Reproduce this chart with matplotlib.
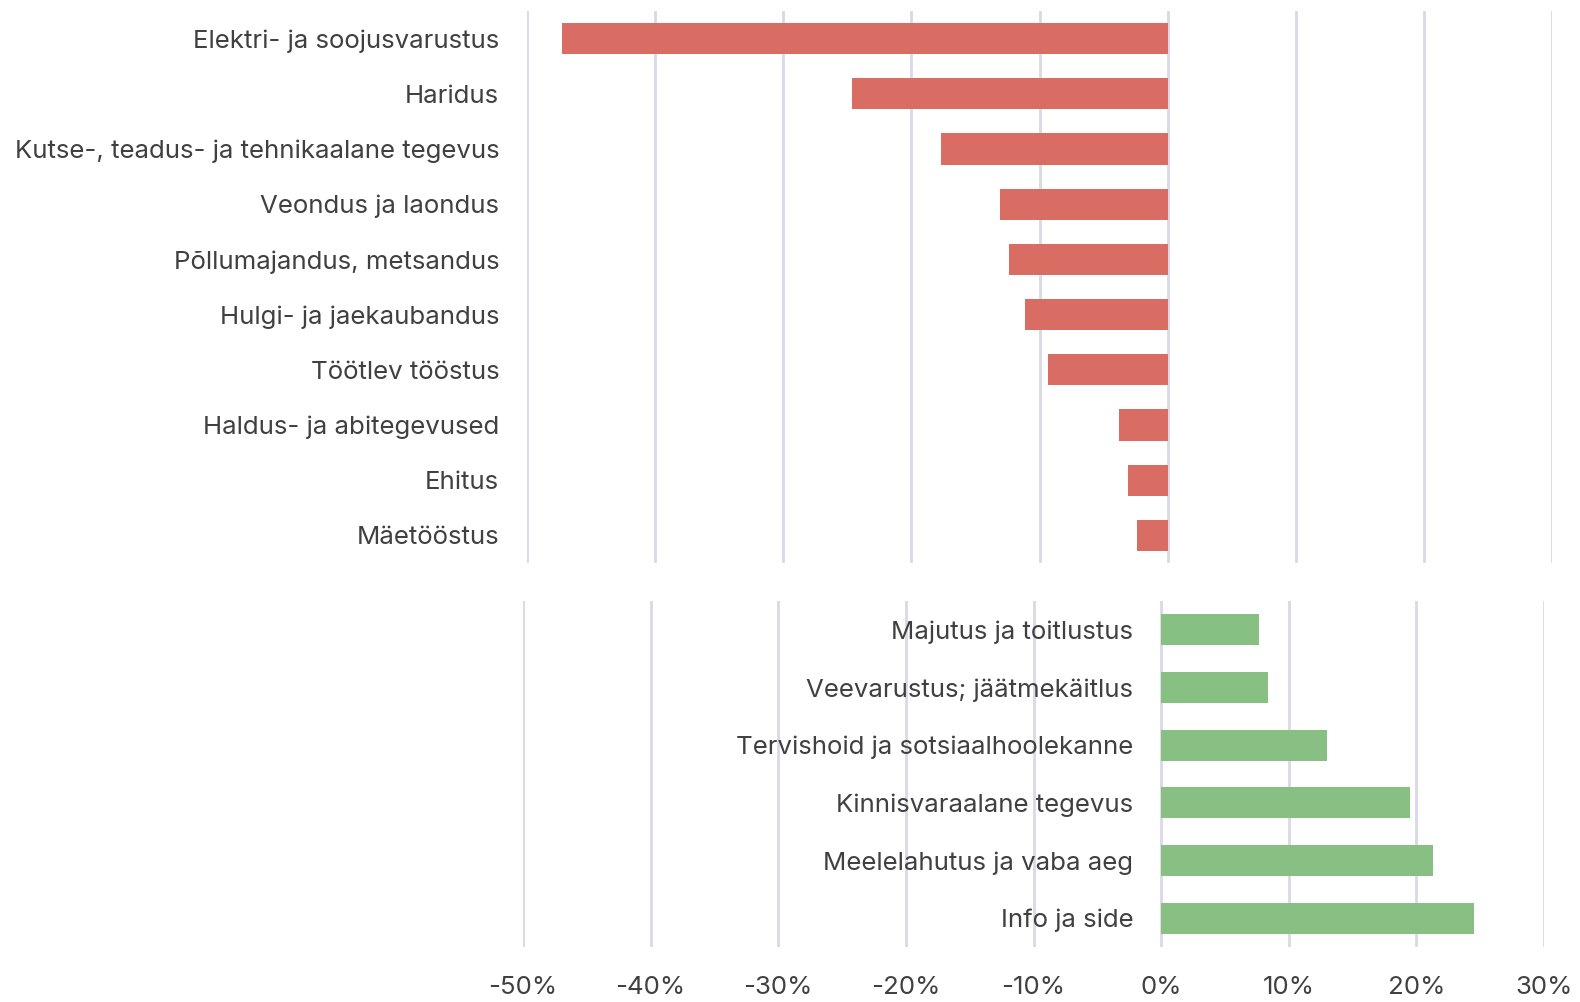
import matplotlib
matplotlib.use("Agg")
import matplotlib.pyplot as plt
from matplotlib.ticker import FuncFormatter

# Sectors with negative change (top panel), top to bottom
neg_labels = ["Elektri- ja soojusvarustus", "Haridus",
              "Kutse-, teadus- ja tehnikaalane tegevus", "Veondus ja laondus",
              "Põllumajandus, metsandus", "Hulgi- ja jaekaubandus",
              "Töötlev tööstus", "Haldus- ja abitegevused", "Ehitus", "Mäetööstus"]
neg_values = [-47.3, -24.6, -17.7, -13.1, -12.4, -11.1, -9.3, -3.8, -3.1, -2.4]

# Sectors with positive change (bottom panel), top to bottom
pos_labels = ["Majutus ja toitlustus", "Veevarustus; jäätmekäitlus",
              "Tervishoid ja sotsiaalhoolekanne", "Kinnisvaraalane tegevus",
              "Meelelahutus ja vaba aeg", "Info ja side"]
pos_values = [7.7, 8.4, 13.0, 19.5, 21.3, 24.5]

x_ticks = [-50, -40, -30, -20, -10, 0, 10, 20, 30]

RED = "#d96c63"
GREEN = "#88bf82"
GRID = "#d9d8e6"
TEXT = "#404040"

plt.rcParams['font.family'] = ['Inter', 'DejaVu Sans']
plt.rcParams['font.size'] = 18.6

W, H = 1580, 1002
fig = plt.figure(figsize=(W / 100, H / 100), dpi=100)

# top panel: -50% at x=527, 30% at x=1552, y 11..563
ax1 = fig.add_axes([527 / W, 1 - 563 / H, (1552 - 527) / W, (563 - 11) / H])
# bottom panel: -50% at x=523, 30% at x=1544, y 601..947
ax2 = fig.add_axes([523 / W, 1 - 947 / H, (1544 - 523) / W, (947 - 601) / H])


def style(ax, labels, values, color, height, pad):
    y = list(range(len(labels)))
    ax.barh(y, values, height=height, color=color, zorder=3)
    ax.set_xlim(-50, 30)
    ax.set_ylim(len(labels) - 0.5, -0.5)
    ax.set_xticks(x_ticks)
    ax.set_yticks(y)
    ax.set_yticklabels(labels)
    ax.grid(axis='x', color=GRID, linewidth=2, zorder=0)
    for s in ['top', 'right', 'bottom']:
        ax.spines[s].set_visible(False)
    ax.spines['left'].set_color('none')
    ax.tick_params(axis='y', length=0, pad=pad, labelcolor=TEXT)
    ax.tick_params(axis='x', length=0, labelcolor=TEXT)


style(ax1, neg_labels, neg_values, RED, 0.565, 20)
ax1.set_xticklabels([])

style(ax2, pos_labels, pos_values, GREEN, 0.54, 20)
ax2.spines['left'].set_position(('data', 0))
ax2.tick_params(axis='y', labelcolor=TEXT)
ax2.xaxis.set_major_formatter(FuncFormatter(lambda v, p: f"{v:.0f}%"))
ax2.tick_params(axis='x', pad=21)

fig.savefig("out.png", dpi=100)
